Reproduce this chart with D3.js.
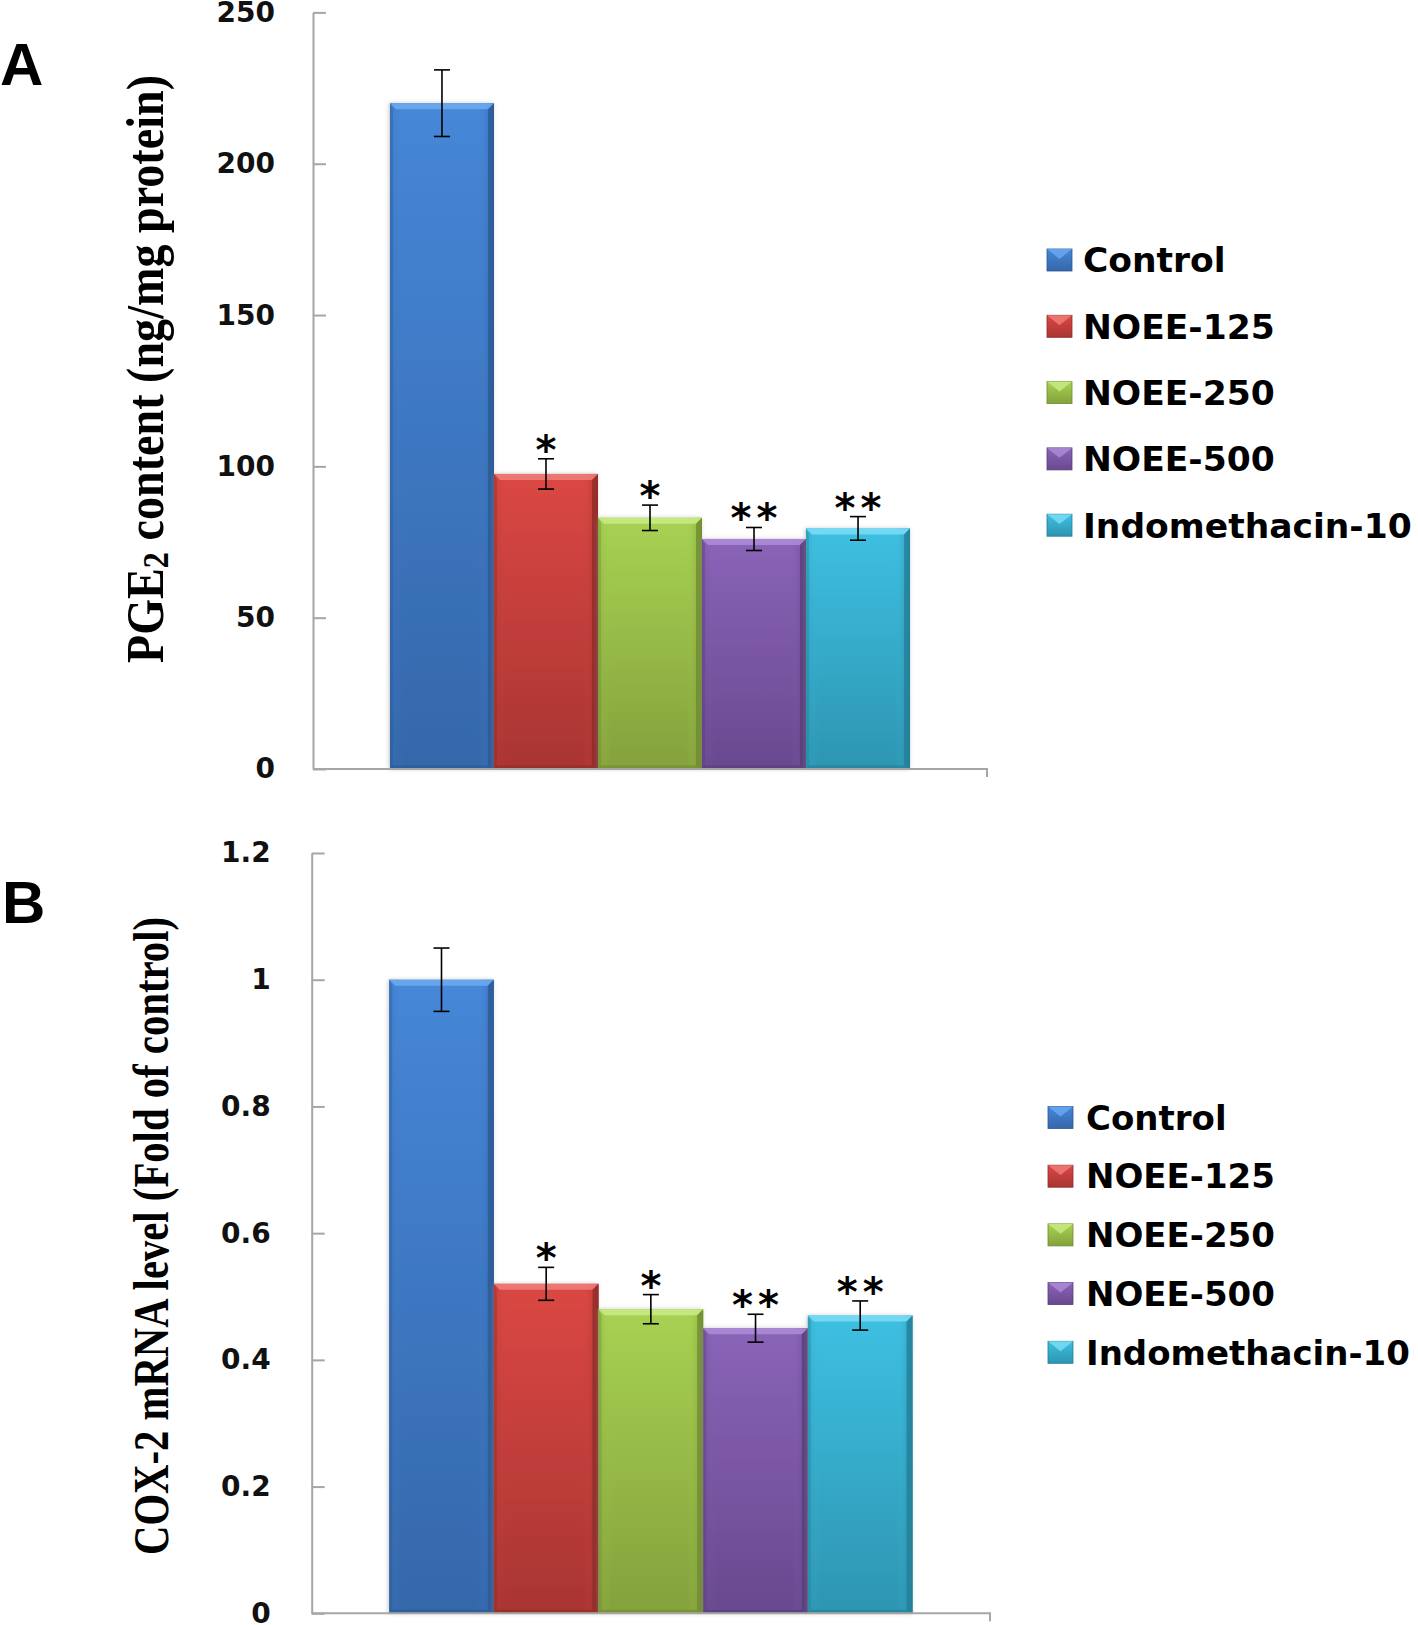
<!DOCTYPE html>
<html>
<head>
<meta charset="utf-8">
<script src="https://cdn.jsdelivr.net/npm/d3@7"></script>
<style>
  html, body { margin: 0; padding: 0; background: #fff; }
  svg { display: block; }
</style>
</head>
<body>
<svg id="chart" width="1418" height="1625"></svg>
<script>
// ---------------- data ----------------
const categories = ["Control", "NOEE-125", "NOEE-250", "NOEE-500", "Indomethacin-10"];
const pgeValues = [220, 97.5, 83, 76, 79.5];
const pgeErrors = [11, 5, 4.2, 3.8, 3.9];
const coxValues = [1.0, 0.52, 0.48, 0.45, 0.47];
const coxErrors = [0.05, 0.026, 0.023, 0.022, 0.023];
const significance = ["", "*", "*", "**", "**"];
const pgeTicks = [0, 50, 100, 150, 200, 250];
const coxTicks = [0, 0.2, 0.4, 0.6, 0.8, 1, 1.2];
const panelLabels = ["A", "B"];
const pgeTitle = ["PGE", "2", " content (ng/mg protein)"];
const coxTitle = "COX-2 mRNA level (Fold of control)";

// colours: [top, bottom, light bevel, dark bevel]
const palette = [
  ["#4687d8", "#3567aa", "#6aa8f0", "#2c5893"],
  ["#db4744", "#a83532", "#ee7b78", "#8e2b28"],
  ["#a8d253", "#84a13c", "#c8ea84", "#6f8a30"],
  ["#8a64b8", "#69498f", "#ad8ad6", "#573c78"],
  ["#3ec0e2", "#2d95b1", "#79dcf4", "#247d95"]
];

const svg = d3.select("#chart");
const defs = svg.append("defs");

palette.forEach((c, i) => {
  const g = defs.append("linearGradient").attr("id", "grad" + i)
    .attr("x1", 0).attr("y1", 0).attr("x2", 0).attr("y2", 1);
  g.append("stop").attr("offset", "0%").attr("stop-color", c[0]);
  g.append("stop").attr("offset", "100%").attr("stop-color", c[1]);
  const h = defs.append("linearGradient").attr("id", "hgrad" + i)
    .attr("x1", 0).attr("y1", 0).attr("x2", 1).attr("y2", 0);
  h.append("stop").attr("offset", "0%").attr("stop-color", c[1]).attr("stop-opacity", 0.35);
  h.append("stop").attr("offset", "12%").attr("stop-color", c[0]).attr("stop-opacity", 0);
  h.append("stop").attr("offset", "85%").attr("stop-color", c[0]).attr("stop-opacity", 0);
  h.append("stop").attr("offset", "100%").attr("stop-color", c[3]).attr("stop-opacity", 0.6);
});
const shadow = defs.append("filter").attr("id", "shadow")
  .attr("x", "-10%").attr("y", "-5%").attr("width", "120%").attr("height", "110%");
shadow.append("feDropShadow").attr("dx", -1).attr("dy", 0).attr("stdDeviation", 2.2)
  .attr("flood-color", "#888").attr("flood-opacity", 0.45);

function drawPanel(cfg) {
  const g = svg.append("g");
  const y = d3.scaleLinear().domain(cfg.domain).range([cfg.y0, cfg.y1]);
  const outer = d3.scaleBand().domain(["group"]).range([cfg.xl, cfg.xr])
    .paddingInner(0).paddingOuter(0.148);
  const x = d3.scaleBand().domain(categories)
    .range([outer("group"), outer("group") + outer.bandwidth()]).padding(0);

  // y axis
  const yAxis = d3.axisLeft(y).tickValues(cfg.ticks).tickSizeInner(-13).tickSizeOuter(0)
    .tickPadding(cfg.tickPad).tickFormat(d => String(d));
  const ya = g.append("g").attr("transform", `translate(${cfg.xl},0)`).call(yAxis);
  ya.select(".domain").attr("stroke", "#a6a6a6").attr("stroke-width", 2);
  ya.selectAll(".tick line").attr("stroke", "#a6a6a6").attr("stroke-width", 2);
  ya.selectAll(".tick text")
    .attr("font-family", "DejaVu Sans").attr("font-weight", "bold")
    .attr("font-size", 28).attr("fill", "#111");

  // bars
  const bars = g.append("g");
  const b = 6;
  categories.forEach((cat, i) => {
    const x0 = x(cat), w = x.bandwidth(), x1 = x0 + w;
    const yt = y(cfg.values[i]), yb = y(0);
    const c = palette[i];
    const bg = bars.append("g");
    bg.append("rect").attr("x", x0).attr("y", yt).attr("width", w).attr("height", yb - yt)
      .attr("fill", `url(#grad${i})`).attr("filter", "url(#shadow)");
    bg.append("rect").attr("x", x0).attr("y", yt).attr("width", w).attr("height", yb - yt)
      .attr("fill", `url(#hgrad${i})`);
    bg.append("path").attr("d", `M${x0},${yt}H${x1}L${x1 - b},${yt + b}H${x0 + b}Z`)
      .attr("fill", c[2]).attr("opacity", 0.9);
    bg.append("path").attr("d", `M${x1},${yt}V${yb}L${x1 - b},${yb - b * 0.6}V${yt + b}Z`)
      .attr("fill", c[3]).attr("opacity", 0.75);
    bg.append("path").attr("d", `M${x0},${yt}V${yb}L${x0 + 3},${yb - 2}V${yt + b}Z`)
      .attr("fill", c[3]).attr("opacity", 0.35);
    bg.append("path").attr("d", `M${x0},${yb}H${x1}L${x1 - b},${yb - b * 0.6}H${x0 + 3}Z`)
      .attr("fill", c[3]).attr("opacity", 0.6);
  });

  // x axis
  const xAxis = d3.axisBottom(outer).tickValues([]).tickSizeOuter(8);
  const xa = g.append("g").attr("transform", `translate(0,${cfg.y0})`).call(xAxis);
  xa.select(".domain").attr("stroke", "#a6a6a6").attr("stroke-width", 2)
    .attr("d", `M${cfg.xl},0H${cfg.xr}V8`);

  // error bars
  const eb = g.append("g").attr("stroke", "#000").attr("stroke-width", 1.6).attr("fill", "none");
  categories.forEach((cat, i) => {
    const cx = x(cat) + x.bandwidth() / 2;
    const hi = y(cfg.values[i] + cfg.errors[i]), lo = y(cfg.values[i] - cfg.errors[i]);
    eb.append("line").attr("x1", cx).attr("x2", cx).attr("y1", hi).attr("y2", lo);
    eb.append("line").attr("x1", cx - 8).attr("x2", cx + 8).attr("y1", hi).attr("y2", hi);
    eb.append("line").attr("x1", cx - 8).attr("x2", cx + 8).attr("y1", lo).attr("y2", lo);
    const s = significance[i];
    if (s) {
      const cy = hi - 19;
      const n = s.length;
      for (let k = 0; k < n; k++) {
        const dx = n === 1 ? 0 : (k === 0 ? -13 : 13);
        g.append("text").attr("x", cx + dx).attr("y", cy + 24)
          .attr("text-anchor", "middle")
          .attr("font-family", "DejaVu Sans").attr("font-weight", "bold")
          .attr("font-size", 40).attr("fill", "#000").text("*");
      }
    }
  });

  // axis title
  const t = g.append("text")
    .attr("transform", `translate(${cfg.titleX},${cfg.titleY}) rotate(-90)`)
    .attr("text-anchor", "middle")
    .attr("font-family", "Liberation Serif").attr("font-weight", "bold")
    .attr("font-size", cfg.titleSize).attr("fill", "#000")
    .attr("textLength", cfg.titleLen).attr("lengthAdjust", "spacingAndGlyphs");
  if (Array.isArray(cfg.title)) {
    t.append("tspan").text(cfg.title[0]);
    t.append("tspan").attr("font-size", cfg.titleSize * 0.7).attr("dy", 5).text(cfg.title[1]);
    t.append("tspan").attr("dy", -5).text(cfg.title[2]);
  } else {
    t.text(cfg.title);
  }

  // panel label
  g.append("text").attr("x", cfg.labelX).attr("y", cfg.labelY)
    .attr("font-family", "Liberation Sans").attr("font-weight", "bold")
    .attr("font-size", 60).attr("fill", "#000").text(cfg.label);

  // legend
  const lg = g.append("g");
  categories.forEach((cat, i) => {
    const ry = cfg.legY + i * cfg.legStep;
    const c = palette[i];
    const sx = cfg.legX, sw = 25, sh = 22, sy = ry - sh / 2;
    lg.append("rect").attr("x", sx).attr("y", sy).attr("width", sw).attr("height", sh)
      .attr("fill", `url(#grad${i})`).attr("stroke", c[3]).attr("stroke-width", 0.8);
    lg.append("path").attr("d", `M${sx},${sy}H${sx + sw}L${sx + sw / 2},${sy + sh * 0.45}Z`)
      .attr("fill", c[2]).attr("opacity", 0.85);
    lg.append("text").attr("x", cfg.legTextX).attr("y", ry + cfg.legSize * 0.36)
      .attr("font-family", "DejaVu Sans").attr("font-weight", "bold")
      .attr("font-size", cfg.legSize).attr("fill", "#000").text(cat);
  });
}

drawPanel({
  domain: [0, 250], y0: 769, y1: 12.4, xl: 313, xr: 987,
  ticks: pgeTicks, tickPad: 38, values: pgeValues, errors: pgeErrors,
  title: pgeTitle, titleX: 163, titleY: 369, titleSize: 52, titleLen: 588,
  label: panelLabels[0], labelX: 0, labelY: 85,
  legX: 1047, legTextX: 1083, legY: 260, legStep: 66.3, legSize: 34.5
});

drawPanel({
  domain: [0, 1.2], y0: 1613.3, y1: 853, xl: 311.7, xr: 990,
  ticks: coxTicks, tickPad: 41, values: coxValues, errors: coxErrors,
  title: coxTitle, titleX: 168, titleY: 1236, titleSize: 50, titleLen: 638,
  label: panelLabels[1], labelX: 2, labelY: 923,
  legX: 1048, legTextX: 1086, legY: 1117.5, legStep: 58.7, legSize: 34
});
</script>
</body>
</html>
